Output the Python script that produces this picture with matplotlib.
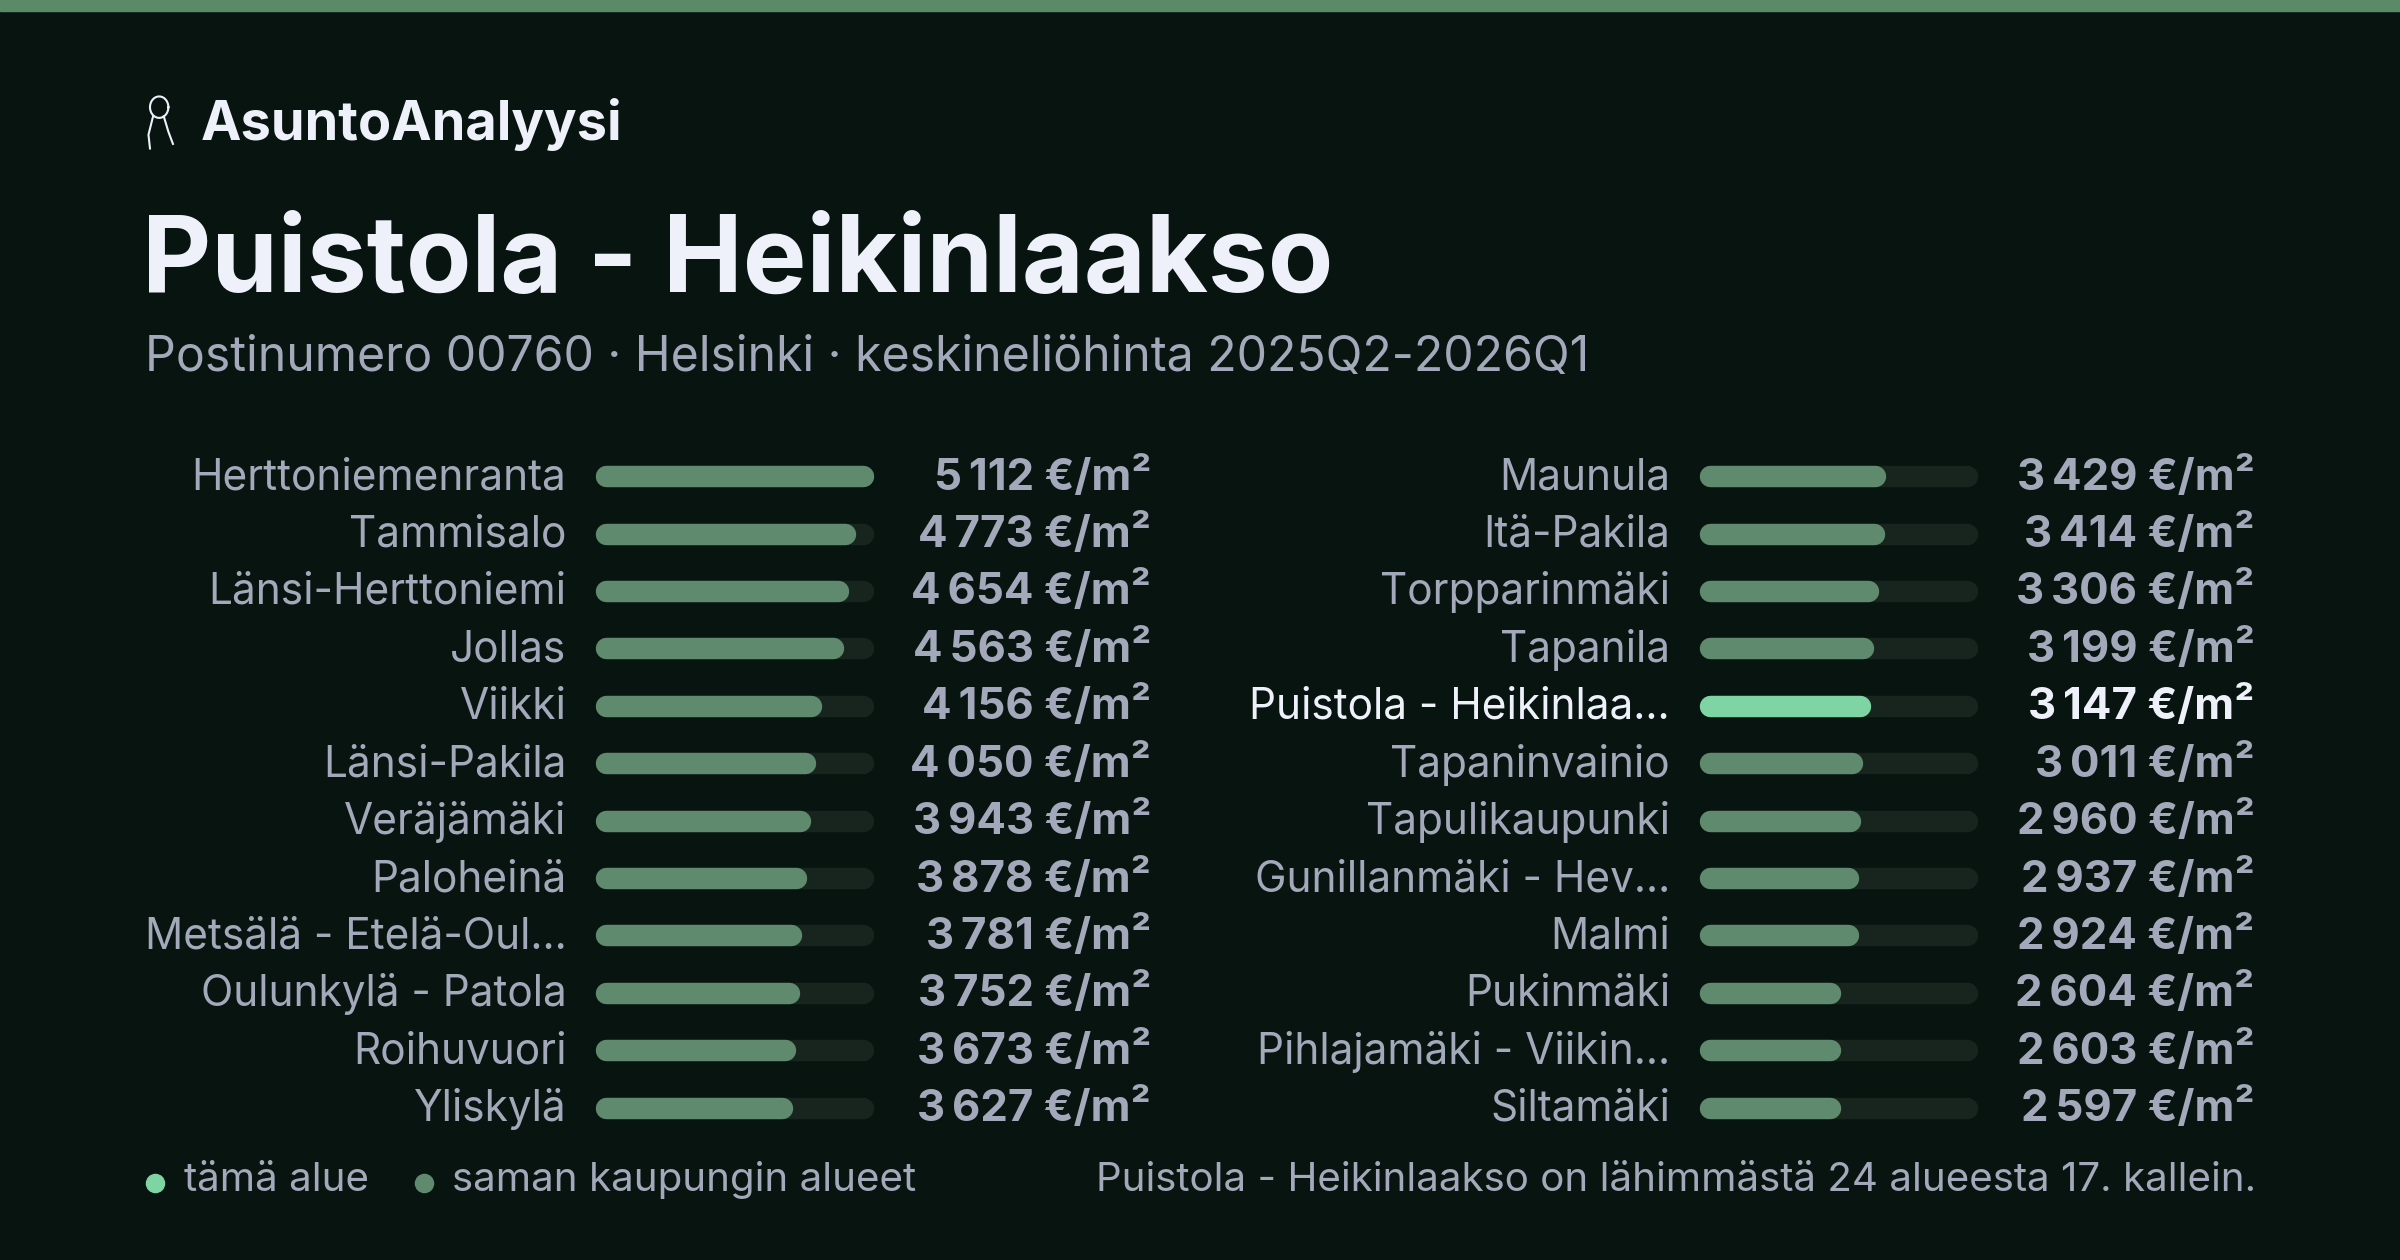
import numpy as np
import matplotlib.pyplot as plt

plt.rcParams['font.family'] = ['Inter', 'DejaVu Sans']

# data
left_names = ["Herttoniemenranta", "Tammisalo", "Länsi-Herttoniemi", "Jollas", "Viikki",
              "Länsi-Pakila", "Veräjämäki", "Paloheinä", "Metsälä - Etelä-Oul…",
              "Oulunkylä - Patola", "Roihuvuori", "Yliskylä"]
left_values = [5112, 4773, 4654, 4563, 4156, 4050, 3943, 3878, 3781, 3752, 3673, 3627]
right_names = ["Maunula", "Itä-Pakila", "Torpparinmäki", "Tapanila", "Puistola - Heikinlaa…",
               "Tapaninvainio", "Tapulikaupunki", "Gunillanmäki - Hev…", "Malmi",
               "Pukinmäki", "Pihlajamäki - Viikin…", "Siltamäki"]
right_values = [3429, 3414, 3306, 3199, 3147, 3011, 2960, 2937, 2924, 2604, 2603, 2597]
highlight = "Puistola - Heikinlaa…"

BG = "#08140f"
FILL = "#5f8a6e"
TRACK = "#18251e"
HI = "#7fd4a3"
LABEL = "#a3a9ba"
WHITE = "#eef0fa"

fig = plt.figure(figsize=(24, 12.6), dpi=100, facecolor=BG)
ax = fig.add_axes([0, 0, 1, 1])
ax.set_facecolor(BG)
ax.set_xlim(0, 1568)
ax.set_ylim(823, 0)
ax.axis('off')

# top stripe
ax.axhspan(0, 7, color="#5a8a67")

# brand icon (simple key ring)
t = np.linspace(0, 2 * np.pi, 60)
ax.plot(104 + 6 * np.cos(t), 70 + 7 * np.sin(t), color=WHITE, lw=1.5)
ax.plot([100, 97, 98], [76, 88, 97], color=WHITE, lw=1.5)
ax.plot([107, 110, 113], [76, 86, 94], color=WHITE, lw=1.5)
ax.text(131, 81, "AsuntoAnalyysi", color=WHITE, fontsize=39, fontweight='bold', va='center')
ax.text(93, 172, "Puistola - Heikinlaakso", color=WHITE, fontsize=77, fontweight='bold', va='center')
ax.text(95, 234, "Postinumero 00760 · Helsinki · keskineliöhinta 2025Q2-2026Q1",
        color=LABEL, fontsize=34.7, va='center')

vmax = max(left_values)
bar_lw = 14 * 1.5306 * 0.72
y0, dy = 311, 37.5


def draw_column(names, values, lab_x, track_x0, track_x1, val_x):
    cap = 7
    for i, (n, v) in enumerate(zip(names, values)):
        y = y0 + i * dy
        hi = n == highlight
        ax.plot([track_x0 + cap, track_x1 - cap], [y, y], color=TRACK, lw=bar_lw,
                solid_capstyle='round')
        end = track_x0 + (track_x1 - track_x0) * v / vmax
        ax.plot([track_x0 + cap, end - cap], [y, y], color=HI if hi else FILL, lw=bar_lw,
                solid_capstyle='round')
        c = WHITE if hi else LABEL
        ax.text(lab_x, y + 1, n, color=c, fontsize=30.5, ha='right', va='center')
        ax.text(val_x, y + 1, f"{v:,}".replace(",", "\u2009") + " €/m²", color=c,
                fontsize=31.5, fontweight='bold', ha='right', va='center')


draw_column(left_names, left_values, 370, 389, 571, 752)
draw_column(right_names, right_values, 1091, 1110, 1292, 1473)

# legend and footnote
ax.scatter([101], [773], s=170, color=HI)
ax.text(120, 771, "tämä alue", color=LABEL, fontsize=29, va='center')
ax.scatter([277], [773], s=170, color=FILL)
ax.text(295, 771, "saman kaupungin alueet", color=LABEL, fontsize=29, va='center')
ax.text(1474, 771, "Puistola - Heikinlaakso on lähimmästä 24 alueesta 17. kallein.",
        color=LABEL, fontsize=29, ha='right', va='center')

fig.savefig("out.png", dpi=100, facecolor=BG)
